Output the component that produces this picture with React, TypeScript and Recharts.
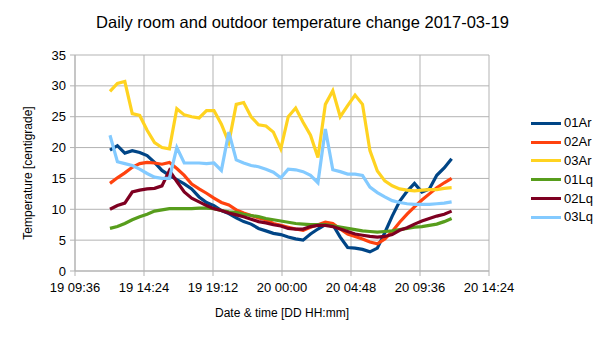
import React from 'react';
import { LineChart, Line, XAxis, YAxis, CartesianGrid } from 'recharts';

// minutes since 2017-03-19 00:00
const times = [722, 753, 784, 815, 846, 877, 908, 939, 970, 1001, 1032, 1063, 1094, 1125, 1156, 1187, 1218, 1249, 1280, 1311, 1342, 1373, 1404, 1435, 1466, 1497, 1528, 1559, 1590, 1621, 1652, 1683, 1714, 1745, 1776, 1807, 1838, 1869, 1900, 1931, 1962, 1993, 2024, 2055, 2086, 2117, 2148];

const s01Ar = [19.6, 20.3, 19.1, 19.5, 19.2, 18.7, 17.6, 16.3, 15.5, 14.8, 14.1, 13.3, 12.0, 11.1, 10.6, 9.8, 9.3, 8.6, 8.0, 7.6, 6.9, 6.5, 6.1, 5.9, 5.5, 5.2, 5.0, 6.0, 6.8, 7.5, 7.5, 5.5, 3.8, 3.7, 3.5, 3.1, 3.7, 6.2, 8.9, 11.3, 12.9, 14.2, 12.8, 13.3, 15.5, 16.7, 18.2];
const s02Ar = [14.2, 15.1, 15.9, 16.8, 17.4, 17.6, 17.5, 17.3, 17.6, 16.6, 15.5, 14.1, 13.3, 12.6, 11.8, 11.1, 10.7, 9.9, 9.4, 9.0, 8.6, 8.3, 7.7, 7.4, 7.1, 6.8, 6.6, 7.1, 7.5, 7.9, 7.7, 6.8, 6.0, 5.6, 5.2, 4.7, 4.4, 5.2, 6.4, 7.9, 9.2, 10.4, 11.5, 12.5, 13.5, 14.3, 15.0];
const s03Ar = [29.1, 30.4, 30.7, 25.5, 25.2, 22.8, 20.8, 20.0, 19.8, 26.3, 25.3, 25.0, 24.8, 26.0, 26.0, 23.8, 20.8, 27.0, 27.3, 25.0, 23.7, 23.5, 22.5, 19.8, 25.0, 26.4, 24.1, 22.0, 18.4, 27.0, 29.2, 25.0, 26.8, 28.5, 27.0, 19.5, 16.2, 14.6, 13.8, 13.3, 13.1, 13.0, 13.1, 13.2, 13.2, 13.4, 13.5];
const s01Lq = [6.9, 7.2, 7.7, 8.3, 8.8, 9.2, 9.7, 9.9, 10.1, 10.1, 10.1, 10.1, 10.2, 10.2, 10.1, 9.8, 9.6, 9.5, 9.2, 9.0, 8.8, 8.5, 8.3, 8.1, 7.9, 7.7, 7.6, 7.5, 7.5, 7.5, 7.3, 7.1, 6.9, 6.7, 6.5, 6.4, 6.3, 6.4, 6.5, 6.7, 6.9, 7.1, 7.2, 7.4, 7.6, 8.0, 8.5];
const s02Lq = [10.0, 10.6, 11.0, 12.8, 13.1, 13.3, 13.4, 13.8, 16.3, 14.5, 12.8, 11.8, 11.2, 10.6, 10.1, 9.8, 9.4, 9.1, 8.8, 8.4, 8.0, 7.8, 7.5, 7.3, 6.9, 6.8, 6.8, 7.2, 7.4, 7.4, 7.2, 6.8, 6.4, 6.0, 5.8, 5.6, 5.5, 5.6, 5.9, 6.6, 7.0, 7.6, 8.1, 8.5, 8.9, 9.2, 9.7];
const s03Lq = [22.0, 17.7, 17.4, 17.1, 16.5, 15.8, 15.2, 15.0, 15.0, 20.0, 17.5, 17.5, 17.5, 17.4, 17.5, 16.3, 22.5, 18.0, 17.5, 17.1, 16.9, 16.5, 16.0, 15.1, 16.5, 16.4, 16.1, 15.5, 14.3, 23.0, 16.4, 16.1, 15.7, 15.7, 15.5, 13.6, 12.7, 12.0, 11.4, 11.1, 10.9, 10.8, 10.8, 10.8, 10.9, 11.0, 11.2];

const xTicks = [576, 864, 1152, 1440, 1728, 2016, 2304];
const yTicks = [0, 5, 10, 15, 20, 25, 30, 35];

const seriesNames = ['01Ar', '02Ar', '03Ar', '01Lq', '02Lq', '03Lq'];
const seriesColors = ['#004586', '#ff420e', '#ffd320', '#579d1c', '#7e0021', '#83caff'];
const seriesValues = [s01Ar, s02Ar, s03Ar, s01Lq, s02Lq, s03Lq];

const data = times.map((t, i) => {
  const row: Record<string, number> = { t };
  seriesNames.forEach((n, k) => {
    row[n] = seriesValues[k][i];
  });
  return row;
});

const pad = (n: number) => (n < 10 ? '0' + n : '' + n);
const fmtTime = (v: number) => {
  const day = 19 + Math.floor(v / 1440);
  const m = v % 1440;
  return `${day} ${pad(Math.floor(m / 60))}:${pad(m % 60)}`;
};

const FONT = '"Liberation Sans", Arial, sans-serif';
const GRID = '#b3b3b3';

export default function App() {
  return (
    <div style={{ position: 'absolute', left: 0, top: 0, width: 605, height: 340, background: '#fff', fontFamily: FONT }}>
      <LineChart
        width={605}
        height={340}
        data={data}
        margin={{ top: 55, right: 116, bottom: 29, left: 15 }}
        style={{ fontFamily: FONT }}
      >
        <CartesianGrid stroke={GRID} strokeWidth={1} />
        <XAxis
          dataKey="t"
          type="number"
          domain={[576, 2304]}
          ticks={xTicks}
          tickFormatter={fmtTime}
          height={40}
          tickSize={5}
          tickMargin={7}
          stroke={GRID}
          tick={{ fill: '#000', fontSize: 13 }}
          interval={0}
        />
        <YAxis
          type="number"
          domain={[0, 35]}
          ticks={yTicks}
          width={60}
          tickSize={5}
          tickMargin={4}
          stroke={GRID}
          tick={{ fill: '#000', fontSize: 13 }}
          interval={0}
        />
        {seriesNames.map((n, k) => (
          <Line
            key={n}
            dataKey={n}
            stroke={seriesColors[k]}
            strokeWidth={3.2}
            dot={false}
            activeDot={false}
            type="linear"
            isAnimationActive={false}
          />
        ))}
      </LineChart>
      <div style={{ position: 'absolute', left: 0, width: 605, top: 12, textAlign: 'center', fontSize: 16.5, color: '#000', lineHeight: '20px' }}>
        Daily room and outdoor temperature change 2017-03-19
      </div>
      <div style={{ position: 'absolute', left: 75, width: 414, top: 305, textAlign: 'center', fontSize: 12, color: '#000', lineHeight: '16px' }}>
        Date &amp; time [DD HH:mm]
      </div>
      <div
        style={{
          position: 'absolute',
          left: 28,
          top: 173,
          transform: 'translate(-50%, -50%) rotate(-90deg)',
          whiteSpace: 'nowrap',
          fontSize: 12,
          color: '#000',
          lineHeight: '16px',
        }}
      >
        Temperature [centigrade]
      </div>
      <div style={{ position: 'absolute', left: 531, top: 114 }}>
        {seriesNames.map((n, k) => (
          <div key={n} style={{ display: 'flex', alignItems: 'center', height: 18.8 }}>
            <div style={{ width: 30, height: 3, background: seriesColors[k] }} />
            <div style={{ marginLeft: 3, fontSize: 13, color: '#000', lineHeight: '16px' }}>{n}</div>
          </div>
        ))}
      </div>
    </div>
  );
}
